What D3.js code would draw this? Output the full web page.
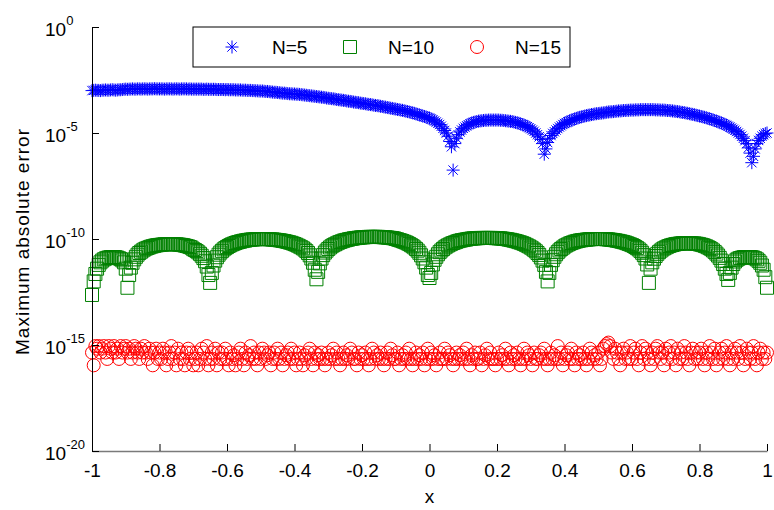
<!DOCTYPE html>
<html>
<head>
<meta charset="utf-8">
<script src="https://cdn.jsdelivr.net/npm/d3@7"></script>
<style>
	body { margin: 0; background: #fff; }
	svg { display: block; font-family: "Liberation Sans", Arial, Helvetica, sans-serif; }
</style>
</head>
<body>
<div id="errChart"></div>
<script>
// sample points x = -1 .. 1, step 0.005 (401 points), one row = 0.1 in x
const sampleCount = 401;
const xTicks = [-1, -0.8, -0.6, -0.4, -0.2, 0, 0.2, 0.4, 0.6, 0.8, 1];
const yTicks = [1e-20, 1e-15, 1e-10, 1e-5, 1];
const seriesNames = ['N=5', 'N=10', 'N=15'];
const seriesColors = ['#0000ff', '#008000', '#ff0000'];

// log10 of max abs error, N=5
const n5Log = [
	-3.00, -2.99, -2.98, -2.99, -2.99, -3.00, -2.98, -2.98, -2.97, -2.98, -2.98, -2.97, -2.96, -2.97, -2.98, -2.97, -2.96, -2.96, -2.95, -2.94,
	-2.93, -2.94, -2.93, -2.93, -2.92, -2.93, -2.93, -2.92, -2.92, -2.93, -2.92, -2.92, -2.92, -2.93, -2.92, -2.92, -2.92, -2.91, -2.92, -2.92,
	-2.92, -2.92, -2.92, -2.93, -2.92, -2.92, -2.92, -2.92, -2.93, -2.92, -2.92, -2.92, -2.93, -2.92, -2.92, -2.92, -2.92, -2.93, -2.92, -2.93,
	-2.93, -2.93, -2.93, -2.93, -2.93, -2.93, -2.94, -2.94, -2.93, -2.94, -2.94, -2.94, -2.94, -2.94, -2.95, -2.95, -2.95, -2.95, -2.95, -2.96,
	-2.95, -2.96, -2.96, -2.96, -2.96, -2.97, -2.97, -2.97, -2.97, -2.98, -2.98, -2.98, -2.99, -2.99, -2.99, -3.00, -3.00, -3.01, -3.01, -3.02,
	-3.02, -3.02, -3.03, -3.04, -3.04, -3.05, -3.06, -3.07, -3.08, -3.08, -3.09, -3.10, -3.11, -3.12, -3.12, -3.13, -3.14, -3.15, -3.15, -3.16,
	-3.16, -3.17, -3.17, -3.18, -3.19, -3.20, -3.21, -3.22, -3.23, -3.24, -3.25, -3.26, -3.27, -3.28, -3.29, -3.30, -3.31, -3.32, -3.33, -3.35,
	-3.36, -3.37, -3.38, -3.39, -3.40, -3.42, -3.43, -3.44, -3.45, -3.46, -3.47, -3.49, -3.50, -3.51, -3.52, -3.54, -3.55, -3.56, -3.57, -3.59,
	-3.60, -3.61, -3.62, -3.64, -3.65, -3.66, -3.67, -3.69, -3.70, -3.71, -3.72, -3.74, -3.75, -3.77, -3.78, -3.80, -3.81, -3.83, -3.84, -3.86,
	-3.87, -3.89, -3.90, -3.92, -3.93, -3.95, -3.97, -3.99, -4.01, -4.03, -4.05, -4.07, -4.10, -4.12, -4.15, -4.17, -4.20, -4.22, -4.25, -4.27,
	-4.30, -4.34, -4.38, -4.43, -4.48, -4.54, -4.60, -4.68, -4.78, -4.88, -5.00, -5.15, -5.40, -5.65, -6.75, -5.50, -5.25, -5.08, -4.95, -4.86,
	-4.78, -4.72, -4.66, -4.61, -4.57, -4.53, -4.50, -4.48, -4.46, -4.44, -4.43, -4.42, -4.41, -4.40, -4.40, -4.39, -4.39, -4.39, -4.39, -4.39,
	-4.39, -4.39, -4.40, -4.40, -4.41, -4.42, -4.43, -4.44, -4.45, -4.46, -4.48, -4.50, -4.52, -4.54, -4.57, -4.60, -4.63, -4.66, -4.70, -4.75,
	-4.80, -4.86, -4.92, -5.00, -5.08, -5.18, -5.30, -5.50, -6.00, -5.75, -5.45, -5.25, -5.12, -5.02, -4.94, -4.86, -4.79, -4.72, -4.66, -4.60,
	-4.55, -4.51, -4.47, -4.43, -4.40, -4.37, -4.34, -4.31, -4.28, -4.26, -4.24, -4.22, -4.20, -4.18, -4.16, -4.15, -4.13, -4.12, -4.10, -4.09,
	-4.08, -4.07, -4.06, -4.05, -4.04, -4.02, -4.01, -4.00, -4.00, -3.99, -3.98, -3.97, -3.96, -3.96, -3.95, -3.94, -3.94, -3.93, -3.93, -3.92,
	-3.92, -3.92, -3.91, -3.91, -3.91, -3.90, -3.90, -3.90, -3.90, -3.90, -3.90, -3.90, -3.90, -3.90, -3.91, -3.91, -3.91, -3.92, -3.92, -3.92,
	-3.93, -3.94, -3.94, -3.95, -3.96, -3.97, -3.98, -3.99, -4.00, -4.02, -4.03, -4.04, -4.06, -4.07, -4.09, -4.11, -4.12, -4.14, -4.16, -4.18,
	-4.20, -4.22, -4.24, -4.26, -4.28, -4.31, -4.33, -4.36, -4.38, -4.41, -4.44, -4.47, -4.50, -4.53, -4.56, -4.60, -4.64, -4.68, -4.72, -4.77,
	-4.82, -4.87, -4.93, -5.00, -5.07, -5.15, -5.25, -5.36, -5.50, -5.70, -5.95, -6.40, -6.10, -5.75, -5.50, -5.35, -5.25, -5.15, -5.08, -5.03,
	-5.00
];

// log10 of max abs error, N=10
const n10Log = [
	-12.64, -12.00, -11.65, -11.40, -11.22, -11.10, -11.02, -10.96, -10.92, -10.89, -10.87, -10.86, -10.85, -10.85, -10.86, -10.88, -10.91, -10.95, -11.01, -11.10,
	-11.40, -12.30, -11.70, -11.35, -11.12, -10.96, -10.84, -10.74, -10.66, -10.60, -10.54, -10.49, -10.45, -10.42, -10.39, -10.36, -10.34, -10.32, -10.30, -10.29,
	-10.28, -10.27, -10.26, -10.25, -10.25, -10.24, -10.24, -10.24, -10.24, -10.25, -10.25, -10.26, -10.27, -10.28, -10.29, -10.31, -10.33, -10.35, -10.38, -10.41,
	-10.48, -10.52, -10.57, -10.63, -10.70, -10.79, -10.90, -11.05, -11.30, -11.70, -12.07, -11.60, -11.25, -11.02, -10.86, -10.74, -10.64, -10.56, -10.49, -10.43,
	-10.38, -10.33, -10.29, -10.25, -10.22, -10.19, -10.16, -10.14, -10.12, -10.10, -10.08, -10.07, -10.05, -10.04, -10.03, -10.02, -10.02, -10.01, -10.01, -10.00,
	-10.00, -10.00, -10.00, -10.00, -10.01, -10.01, -10.02, -10.02, -10.03, -10.04, -10.05, -10.06, -10.07, -10.09, -10.10, -10.12, -10.14, -10.16, -10.18, -10.21,
	-10.24, -10.27, -10.31, -10.35, -10.39, -10.44, -10.50, -10.57, -10.66, -10.77, -10.92, -11.12, -11.45, -11.90, -11.55, -11.15, -10.92, -10.76, -10.64, -10.55,
	-10.47, -10.40, -10.34, -10.29, -10.25, -10.21, -10.17, -10.14, -10.11, -10.08, -10.06, -10.04, -10.02, -10.00, -9.99, -9.97, -9.96, -9.95, -9.94, -9.93,
	-9.92, -9.92, -9.91, -9.91, -9.90, -9.90, -9.90, -9.90, -9.90, -9.90, -9.90, -9.91, -9.91, -9.92, -9.92, -9.93, -9.94, -9.95, -9.96, -9.97,
	-10.00, -10.02, -10.05, -10.07, -10.10, -10.13, -10.16, -10.20, -10.24, -10.29, -10.34, -10.40, -10.47, -10.55, -10.65, -10.77, -10.92, -11.10, -11.35, -11.70,
	-11.84, -11.60, -11.20, -10.98, -10.84, -10.72, -10.62, -10.54, -10.47, -10.40, -10.35, -10.30, -10.26, -10.22, -10.19, -10.16, -10.13, -10.10, -10.08, -10.06,
	-10.05, -10.03, -10.02, -10.00, -9.99, -9.98, -9.97, -9.97, -9.96, -9.96, -9.95, -9.95, -9.95, -9.95, -9.95, -9.95, -9.95, -9.95, -9.95, -9.96,
	-9.96, -9.97, -9.97, -9.98, -9.99, -10.00, -10.01, -10.03, -10.04, -10.06, -10.08, -10.10, -10.12, -10.15, -10.17, -10.20, -10.23, -10.27, -10.31, -10.35,
	-10.40, -10.45, -10.51, -10.58, -10.66, -10.75, -10.87, -11.02, -11.22, -11.55, -12.00, -11.60, -11.22, -11.00, -10.84, -10.72, -10.62, -10.54, -10.47, -10.41,
	-10.35, -10.30, -10.26, -10.22, -10.19, -10.16, -10.13, -10.11, -10.09, -10.07, -10.06, -10.05, -10.04, -10.03, -10.02, -10.01, -10.01, -10.00, -10.00, -10.00,
	-10.00, -10.00, -10.00, -10.00, -10.01, -10.01, -10.02, -10.03, -10.04, -10.05, -10.06, -10.08, -10.09, -10.11, -10.13, -10.15, -10.17, -10.20, -10.23, -10.26,
	-10.29, -10.33, -10.38, -10.43, -10.49, -10.56, -10.65, -10.76, -10.92, -11.20, -12.07, -11.40, -11.10, -10.93, -10.80, -10.70, -10.62, -10.55, -10.49, -10.44,
	-10.40, -10.36, -10.33, -10.30, -10.28, -10.26, -10.24, -10.23, -10.22, -10.21, -10.20, -10.20, -10.20, -10.20, -10.20, -10.20, -10.21, -10.21, -10.22, -10.23,
	-10.25, -10.27, -10.29, -10.32, -10.35, -10.39, -10.43, -10.48, -10.54, -10.61, -10.69, -10.78, -10.89, -11.02, -11.18, -11.40, -11.65, -11.93, -11.60, -11.35,
	-11.18, -11.06, -10.98, -10.93, -10.90, -10.88, -10.86, -10.85, -10.85, -10.85, -10.85, -10.86, -10.88, -10.91, -10.96, -11.03, -11.12, -11.25, -11.45, -11.80,
	-12.30
];

// max abs error, N=15 (round-off level)
const n15Err = [
	4.4e-16, 1.1e-16, 8.9e-16, 6.7e-16, 8.9e-16, 4.4e-16, 6.7e-16, 8.9e-16, 4.4e-16, 2.2e-16, 8.9e-16, 6.7e-16, 4.4e-16, 8.9e-16, 4.4e-16, 6.7e-16, 2.2e-16, 8.9e-16, 4.4e-16, 6.7e-16,
	8.9e-16, 4.4e-16, 6.7e-16, 2.2e-16, 4.4e-16, 8.9e-16, 6.7e-16, 4.4e-16, 2.2e-16, 6.7e-16, 4.4e-16, 8.9e-16, 4.4e-16, 2.2e-16, 6.7e-16, 4.4e-16, 1.1e-16, 4.4e-16, 6.7e-16, 2.2e-16,
	4.4e-16, 2.2e-16, 6.7e-16, 4.4e-16, 1.1e-16, 2.2e-16, 4.4e-16, 8.9e-16, 2.2e-16, 4.4e-16, 1.1e-16, 6.7e-16, 2.2e-16, 4.4e-16, 2.2e-16, 1.1e-16, 4.4e-16, 6.7e-16, 2.2e-16, 4.4e-16,
	1.1e-16, 2.2e-16, 4.4e-16, 1.1e-16, 2.2e-16, 6.7e-16, 4.4e-16, 2.2e-16, 8.9e-16, 1.1e-16, 2.2e-16, 4.4e-16, 2.2e-16, 6.7e-16, 1.1e-16, 4.4e-16, 2.2e-16, 4.4e-16, 2.2e-16, 6.7e-16,
	2.2e-16, 1.1e-16, 4.4e-16, 2.2e-16, 3.3e-16, 1.1e-16, 2.2e-16, 4.4e-16, 6.7e-16, 2.2e-16, 1.1e-16, 4.4e-16, 2.2e-16, 3.3e-16, 8.9e-16, 2.2e-16, 4.4e-16, 2.2e-16, 1.1e-16, 4.4e-16,
	2.2e-16, 6.7e-16, 4.4e-16, 2.2e-16, 3.3e-16, 4.4e-16, 1.1e-16, 2.2e-16, 4.4e-16, 2.2e-16, 6.7e-16, 2.2e-16, 4.4e-16, 1.1e-16, 2.2e-16, 3.3e-16, 4.4e-16, 2.2e-16, 6.7e-16, 2.2e-16,
	4.4e-16, 1.1e-16, 2.2e-16, 4.4e-16, 2.2e-16, 1.1e-16, 3.3e-16, 2.2e-16, 4.4e-16, 6.7e-16, 2.2e-16, 1.1e-16, 4.4e-16, 2.2e-16, 3.3e-16, 2.2e-16, 4.4e-16, 2.2e-16, 1.1e-16, 2.2e-16,
	4.4e-16, 2.2e-16, 3.3e-16, 6.7e-16, 2.2e-16, 4.4e-16, 2.2e-16, 1.1e-16, 2.2e-16, 4.4e-16, 2.2e-16, 3.3e-16, 2.2e-16, 6.7e-16, 4.4e-16, 2.2e-16, 2.2e-16, 1.1e-16, 4.4e-16, 2.2e-16,
	3.3e-16, 2.2e-16, 4.4e-16, 2.2e-16, 1.1e-16, 2.2e-16, 6.7e-16, 4.4e-16, 2.2e-16, 3.3e-16, 2.2e-16, 4.4e-16, 2.2e-16, 1.1e-16, 2.2e-16, 4.4e-16, 2.2e-16, 6.7e-16, 3.3e-16, 2.2e-16,
	2.2e-16, 4.4e-16, 1.1e-16, 2.2e-16, 3.3e-16, 2.2e-16, 4.4e-16, 2.2e-16, 6.7e-16, 2.2e-16, 1.1e-16, 2.2e-16, 4.4e-16, 2.2e-16, 3.3e-16, 2.2e-16, 4.4e-16, 1.1e-16, 2.2e-16, 6.7e-16,
	2.2e-16, 4.4e-16, 2.2e-16, 3.3e-16, 1.1e-16, 2.2e-16, 4.4e-16, 2.2e-16, 2.2e-16, 6.7e-16, 2.2e-16, 4.4e-16, 3.3e-16, 2.2e-16, 1.1e-16, 2.2e-16, 4.4e-16, 2.2e-16, 3.3e-16, 2.2e-16,
	4.4e-16, 2.2e-16, 6.7e-16, 2.2e-16, 1.1e-16, 3.3e-16, 2.2e-16, 4.4e-16, 2.2e-16, 2.2e-16, 4.4e-16, 1.1e-16, 2.2e-16, 3.3e-16, 6.7e-16, 2.2e-16, 4.4e-16, 2.2e-16, 2.2e-16, 1.1e-16,
	2.2e-16, 4.4e-16, 2.2e-16, 3.3e-16, 2.2e-16, 6.7e-16, 2.2e-16, 1.1e-16, 4.4e-16, 2.2e-16, 3.3e-16, 2.2e-16, 4.4e-16, 2.2e-16, 1.1e-16, 2.2e-16, 6.7e-16, 2.2e-16, 4.4e-16, 3.3e-16,
	2.2e-16, 1.1e-16, 4.4e-16, 2.2e-16, 2.2e-16, 3.3e-16, 4.4e-16, 2.2e-16, 6.7e-16, 2.2e-16, 1.1e-16, 2.2e-16, 4.4e-16, 2.2e-16, 3.3e-16, 2.2e-16, 8.9e-16, 2.2e-16, 4.4e-16, 1.1e-16,
	2.2e-16, 3.3e-16, 4.4e-16, 2.2e-16, 6.7e-16, 2.2e-16, 1.1e-16, 4.4e-16, 2.2e-16, 3.3e-16, 2.2e-16, 4.4e-16, 2.2e-16, 1.1e-16, 2.2e-16, 6.7e-16, 4.4e-16, 2.2e-16, 3.3e-16, 2.2e-16,
	4.4e-16, 1.1e-16, 2.2e-16, 6.7e-16, 8.9e-16, 1.1e-15, 1.3e-15, 8.9e-16, 4.4e-16, 2.2e-16, 6.7e-16, 4.4e-16, 2.2e-16, 1.1e-16, 4.4e-16, 6.7e-16, 2.2e-16, 4.4e-16, 2.2e-16, 8.9e-16,
	2.2e-16, 4.4e-16, 6.7e-16, 2.2e-16, 1.1e-16, 4.4e-16, 8.9e-16, 2.2e-16, 6.7e-16, 4.4e-16, 2.2e-16, 1.1e-16, 4.4e-16, 2.2e-16, 6.7e-16, 8.9e-16, 4.4e-16, 2.2e-16, 4.4e-16, 1.1e-16,
	6.7e-16, 2.2e-16, 4.4e-16, 8.9e-16, 2.2e-16, 4.4e-16, 1.1e-16, 6.7e-16, 2.2e-16, 4.4e-16, 2.2e-16, 8.9e-16, 4.4e-16, 2.2e-16, 1.1e-16, 4.4e-16, 6.7e-16, 2.2e-16, 4.4e-16, 2.2e-16,
	4.4e-16, 6.7e-16, 2.2e-16, 1.1e-16, 4.4e-16, 2.2e-16, 8.9e-16, 4.4e-16, 2.2e-16, 6.7e-16, 1.1e-16, 2.2e-16, 4.4e-16, 6.7e-16, 2.2e-16, 4.4e-16, 8.9e-16, 2.2e-16, 1.1e-16, 4.4e-16,
	2.2e-16, 6.7e-16, 4.4e-16, 2.2e-16, 8.9e-16, 4.4e-16, 1.1e-16, 2.2e-16, 6.7e-16, 4.4e-16, 2.2e-16, 4.4e-16, 8.9e-16, 2.2e-16, 1.1e-16, 4.4e-16, 6.7e-16, 2.2e-16, 4.4e-16, 2.2e-16,
	4.4e-16
];

const chartW = 774, chartH = 510;
const plotBox = { left: 92, right: 767, top: 27, bottom: 451 };
const markR = 6.5;

const xScale = d3.scaleLinear().domain([-1, 1]).range([plotBox.left, plotBox.right]);
const yScale = d3.scaleLog().domain([1e-20, 1]).range([plotBox.bottom, plotBox.top]);
const xAt = d3.scaleLinear().domain([0, sampleCount - 1]).range([-1, 1]);

const starPath = (r) => {
	let k = r * 0.72;
	return `M${-r},0H${r}M0,${-r}V${r}M${-k},${-k}L${k},${k}M${-k},${k}L${k},${-k}`;
};
const squarePath = (r) => `M${-r},${-r}H${r}V${r}H${-r}Z`;
const circlePath = (r) => `M${r},0A${r},${r} 0 1,1 ${-r},0A${r},${r} 0 1,1 ${r},0Z`;
const markerPaths = [starPath(markR), squarePath(markR), circlePath(markR)];

function buildSeries(){
	return [
		n5Log.map((v, i) => ({ x: xAt(i), y: Math.pow(10, v) })),
		n10Log.map((v, i) => ({ x: xAt(i), y: Math.pow(10, v) })),
		n15Err.map((v, i) => ({ x: xAt(i), y: v }))
	];
}

function buildErrChart(){
	const svg = d3.select('#errChart').append('svg')
		.attr('width', chartW)
		.attr('height', chartH);
	svg.append('rect').attr('width', chartW).attr('height', chartH).attr('fill', '#fff');

	const allSeries = buildSeries();

	allSeries.forEach((pts, si) => {
		svg.append('g').attr('class', 'series' + si)
			.selectAll('path')
			.data(pts)
			.enter()
			.append('path')
			.attr('transform', d => `translate(${xScale(d.x)},${yScale(d.y)})`)
			.attr('d', markerPaths[si])
			.attr('fill', 'none')
			.attr('stroke', seriesColors[si])
			.attr('stroke-width', 1);
	});

	// x axis, ticks point inward
	const xAxis = d3.axisBottom(xScale)
		.tickValues(xTicks)
		.tickSizeInner(-7)
		.tickSizeOuter(0)
		.tickFormat(d => String(+d.toFixed(1)));
	const gx = svg.append('g')
		.attr('transform', `translate(0,${plotBox.bottom})`)
		.call(xAxis);
	gx.select('.domain').attr('stroke', '#7a7a7a').attr('stroke-width', 1.5);
	gx.selectAll('.tick line').attr('stroke', '#000');
	gx.selectAll('.tick text')
		.attr('y', 26).attr('dy', 0)
		.attr('fill', '#000')
		.style('font-size', '19px');

	// y axis, log decades every 5
	const yAxis = d3.axisLeft(yScale)
		.tickValues(yTicks)
		.tickSizeInner(-7)
		.tickSizeOuter(0)
		.tickFormat('');
	const gy = svg.append('g')
		.attr('transform', `translate(${plotBox.left},0)`)
		.call(yAxis);
	gy.select('.domain').attr('stroke', '#000').attr('stroke-width', 1);
	gy.selectAll('.tick line').attr('stroke', '#000');
	gy.selectAll('.tick').each(function(d){
		let t = d3.select(this).append('text')
			.attr('x', -47).attr('y', 8)
			.attr('text-anchor', 'start')
			.attr('fill', '#000');
		t.append('tspan').style('font-size', '19px').text('10');
		t.append('tspan').attr('dy', -11).style('font-size', '13px')
			.text(String(Math.round(Math.log10(d))));
	});

	svg.append('text')
		.attr('transform', 'translate(29,242) rotate(-90)')
		.attr('text-anchor', 'middle')
		.attr('textLength', 226)
		.attr('lengthAdjust', 'spacing')
		.style('font-size', '19px')
		.text('Maximum absolute error');

	svg.append('text')
		.attr('x', xScale(0)).attr('y', 503)
		.attr('text-anchor', 'middle')
		.style('font-size', '19px')
		.text('x');

	// legend
	const lg = svg.append('g').attr('class', 'legend');
	lg.append('rect')
		.attr('x', 193).attr('y', 27)
		.attr('width', 377).attr('height', 40)
		.attr('fill', '#fff')
		.attr('stroke', '#000')
		.attr('stroke-width', 1);
	const legMarkX = [232, 350, 477];
	const legTextX = [272, 388, 515];
	seriesNames.forEach((name, i) => {
		lg.append('path')
			.attr('transform', `translate(${legMarkX[i]},47)`)
			.attr('d', markerPaths[i])
			.attr('fill', 'none')
			.attr('stroke', seriesColors[i]);
		lg.append('text')
			.attr('x', legTextX[i]).attr('y', 54)
			.style('font-size', '19px')
			.text(name);
	});
}

buildErrChart();
</script>
</body>
</html>
